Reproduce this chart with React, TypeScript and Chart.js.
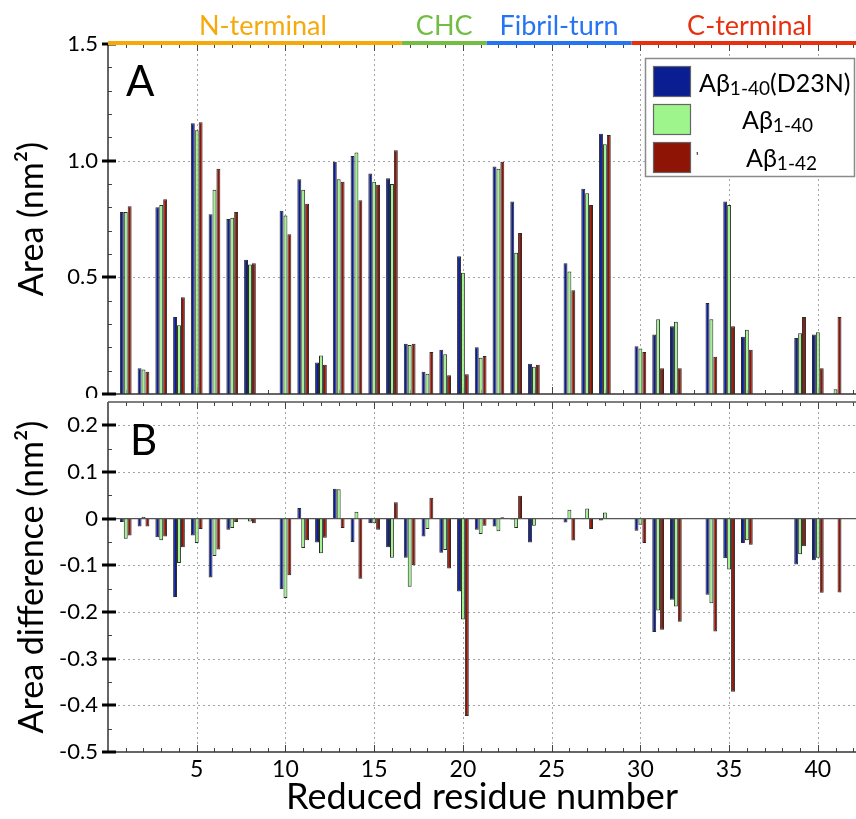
import React, { useEffect, useRef } from 'react';
import { Chart, registerables } from 'chart.js';

Chart.register(...registerables);

const FONT = "Lato, 'Open Sans', 'DejaVu Sans', sans-serif";

// ---------- data ----------
const residues = [
  1, 2, 3, 4, 5, 6, 7, 8, 9, 10, 11, 12, 13, 14, 15, 16, 17, 18, 19, 20, 21,
  22, 23, 24, 25, 26, 27, 28, 29, 30, 31, 32, 33, 34, 35, 36, 37, 38, 39, 40, 41,
];

// Panel A: area (nm^2)
const areaD23N = [
  0.78, 0.11, 0.8, 0.33, 1.16, 0.77, 0.75, 0.575, null, 0.785, 0.92, 0.135, 0.995, 1.02, 0.945, 0.925, 0.215, 0.095, 0.19, 0.59, 0.2,
  0.975, 0.825, 0.13, null, 0.56, 0.88, 1.115, null, 0.205, 0.255, 0.29, null, 0.39, 0.825, 0.245, null, null, 0.24, 0.255, null,
];
const areaAb40 = [
  0.78, 0.105, 0.81, 0.295, 1.13, 0.875, 0.755, 0.555, null, 0.765, 0.875, 0.165, 0.92, 1.035, 0.91, 0.9, 0.21, 0.087, 0.17, 0.52, 0.155,
  0.965, 0.605, 0.117, null, 0.525, 0.86, 1.07, null, 0.195, 0.32, 0.31, null, 0.32, 0.81, 0.275, null, null, 0.26, 0.265, 0.02,
];
const areaAb42 = [
  0.805, 0.095, 0.835, 0.415, 1.165, 0.965, 0.78, 0.56, null, 0.685, 0.815, 0.125, 0.91, 0.83, 0.897, 1.045, 0.215, 0.18, 0.08, 0.085, 0.163,
  0.995, 0.69, 0.125, null, 0.445, 0.81, 1.11, null, 0.18, 0.11, 0.11, null, 0.16, 0.29, 0.19, null, null, 0.33, 0.11, 0.33,
];

// Panel B: area difference (nm^2)
const diffD23N = [
  -0.007, -0.017, -0.04, -0.168, -0.036, -0.126, -0.024, 0, null, -0.151, 0.023, -0.051, 0.064, -0.05, -0.01, -0.061, -0.084, -0.038, -0.073, -0.156, -0.024,
  -0.017, -0.002, -0.051, null, -0.008, -0.001, -0.004, null, -0.026, -0.243, -0.174, null, -0.163, -0.085, -0.052, null, null, -0.098, -0.089, null,
];
const diffAb40 = [
  -0.043, 0.004, -0.046, -0.095, -0.052, -0.08, -0.02, -0.006, null, -0.17, -0.063, -0.074, 0.063, 0.015, -0.01, -0.084, -0.146, -0.022, -0.067, -0.216, -0.033,
  -0.027, -0.02, -0.015, null, 0.019, 0.022, 0.013, null, -0.013, -0.197, -0.188, null, -0.181, -0.109, -0.046, null, null, -0.076, -0.084, null,
];
const diffAb42 = [
  -0.036, -0.017, -0.038, -0.061, -0.022, -0.066, -0.007, -0.01, null, -0.121, -0.046, -0.041, -0.02, -0.129, -0.024, 0.035, -0.1, 0.045, -0.107, -0.423, -0.015,
  0.003, 0.049, null, null, -0.047, -0.022, 0.001, null, -0.052, -0.238, -0.221, null, -0.242, -0.371, -0.056, null, null, -0.059, -0.159, -0.158,
];

const seriesMain = ['Aβ', 'Aβ', 'Aβ'];
const seriesSub = ['1-40', '1-40', '1-42'];
const seriesSuffix = ['(D23N)', '', ''];

const xTicks = [5, 10, 15, 20, 25, 30, 35, 40];
const topYTicks = [0, 0.5, 1.0, 1.5];
const bottomYTicks = [-0.5, -0.4, -0.3, -0.2, -0.1, 0, 0.1, 0.2];

const regionNames = ['N-terminal', 'CHC', 'Fibril-turn', 'C-terminal'];
const regionStart = [0, 16.55, 21.34, 29.5];
const regionEnd = [16.55, 21.34, 29.5, 42.15];

// ---------- style ----------
const X_MIN = 0;
const X_MAX = 42.15;
const COLORS = ['#0a1e92', '#9df58c', '#8e1405'];
const REGION_COLORS = ['#f6a90b', '#73bd43', '#2574f4', '#e8300f'];
const BAR_BORDER = '#2a2a2a';

function line(ctx: any, x1: number, y1: number, x2: number, y2: number) {
  ctx.beginPath();
  ctx.moveTo(x1, y1);
  ctx.lineTo(x2, y2);
  ctx.stroke();
}

function drawBack(chart: any, gridY: number[], yMin: number, yMax: number, minorStep: number, majorY: number[]) {
  const { ctx, chartArea: a, scales } = chart;
  const x = scales.x;
  const y = scales.y;
  ctx.save();
  ctx.strokeStyle = '#a5a5a5';
  ctx.lineWidth = 1;
  ctx.setLineDash([2, 3]);
  for (const v of xTicks) {
    const px = Math.round(x.getPixelForValue(v)) + 0.5;
    line(ctx, px, a.top, px, a.bottom);
  }
  for (const v of gridY) {
    const py = Math.round(y.getPixelForValue(v)) + 0.5;
    line(ctx, a.left, py, a.right, py);
  }
  ctx.setLineDash([]);
  ctx.strokeStyle = '#444';
  ctx.lineWidth = 1;
  const n = Math.round((yMax - yMin) / minorStep);
  for (let k = 1; k < n; k++) {
    const v = yMin + k * minorStep;
    if (majorY.some((m) => Math.abs(m - v) < 1e-6)) continue;
    const py = Math.round(y.getPixelForValue(v)) + 0.5;
    line(ctx, a.left, py, a.left + 4, py);
  }
  for (let v = 1; v <= Math.floor(X_MAX); v++) {
    const px = Math.round(x.getPixelForValue(v)) + 0.5;
    const len = v % 5 === 0 ? 7 : 4;
    line(ctx, px, a.top, px, a.top + len);
    line(ctx, px, a.bottom, px, a.bottom - len);
  }
  ctx.restore();
}

function drawFront(chart: any, majorY: number[], topBorder: boolean, zeroLine: boolean) {
  const { ctx, chartArea: a, scales } = chart;
  const y = scales.y;
  ctx.save();
  ctx.strokeStyle = '#333';
  ctx.lineWidth = 1.5;
  line(ctx, a.left, a.top, a.left, a.bottom);
  line(ctx, a.left, a.bottom, a.right, a.bottom);
  if (topBorder) {
    ctx.strokeStyle = '#555';
    line(ctx, a.left, a.top, a.right, a.top);
  }
  if (zeroLine) {
    ctx.strokeStyle = '#555';
    ctx.lineWidth = 1.3;
    const py = y.getPixelForValue(0);
    line(ctx, a.left, py, a.right, py);
  }
  ctx.strokeStyle = '#000';
  ctx.lineWidth = 3;
  for (const v of majorY) {
    const py = Math.round(y.getPixelForValue(v));
    line(ctx, a.left - 6, py, a.left + 8, py);
  }
  ctx.restore();
}

function drawSubText(ctx: any, x: number, baseline: number, main: string, sub: string, suffix: string) {
  ctx.textBaseline = 'alphabetic';
  ctx.textAlign = 'left';
  ctx.font = `25px ${FONT}`;
  ctx.fillText(main, x, baseline);
  let w = ctx.measureText(main).width;
  ctx.font = `19px ${FONT}`;
  ctx.fillText(sub, x + w, baseline + 2.5);
  w += ctx.measureText(sub).width;
  if (suffix) {
    ctx.font = `25px ${FONT}`;
    ctx.fillText(suffix, x + w, baseline);
  }
}

const topPlugin = {
  id: 'topDecor',
  beforeDatasetsDraw(chart: any) {
    drawBack(chart, [0.5, 1.0], 0, 1.5, 0.1, topYTicks);
  },
  afterDatasetsDraw(chart: any) {
    drawFront(chart, topYTicks, false, false);
  },
  afterDraw(chart: any) {
    const { ctx, chartArea: a, scales } = chart;
    const x = scales.x;
    ctx.save();
    ctx.lineWidth = 4;
    ctx.font = `27px ${FONT}`;
    ctx.textAlign = 'center';
    ctx.textBaseline = 'alphabetic';
    for (let i = 0; i < regionNames.length; i++) {
      const x1 = x.getPixelForValue(regionStart[i]);
      const x2 = Math.max(x.getPixelForValue(regionEnd[i]), x1);
      ctx.strokeStyle = REGION_COLORS[i];
      line(ctx, x1, a.top - 1, x2, a.top - 1);
      ctx.fillStyle = REGION_COLORS[i];
      ctx.fillText(regionNames[i], (x1 + x2) / 2 + (i === 0 ? 8 : i === 3 ? 6 : 0), 35);
    }
    ctx.fillStyle = '#000';
    ctx.textAlign = 'left';
    ctx.font = `42px ${FONT}`;
    ctx.fillText('A', 126, 96);
    ctx.fillStyle = '#fff';
    ctx.fillRect(645, 58, 211, 119);
    ctx.strokeStyle = '#8a8a8a';
    ctx.lineWidth = 1.5;
    ctx.strokeRect(645.5, 58.5, 209, 118);
    const rows = [
      { sy: 66, tx: 699, base: 92 },
      { sy: 104, tx: 742, base: 129 },
      { sy: 142, tx: 746, base: 167 },
    ];
    for (let i = 0; i < 3; i++) {
      ctx.fillStyle = COLORS[i];
      ctx.fillRect(653, rows[i].sy, 37, 30);
      ctx.strokeStyle = '#666';
      ctx.lineWidth = 1.2;
      ctx.strokeRect(653.5, rows[i].sy + 0.5, 37, 30);
      ctx.fillStyle = '#000';
      drawSubText(ctx, rows[i].tx, rows[i].base, seriesMain[i], seriesSub[i], seriesSuffix[i]);
    }
    ctx.font = `12px ${FONT}`;
    ctx.fillText("'", 696, 160);
    ctx.restore();
  },
};

const bottomPlugin = {
  id: 'bottomDecor',
  beforeDatasetsDraw(chart: any) {
    drawBack(chart, [0.2, 0.1, -0.1, -0.2, -0.3, -0.4], -0.5, 0.25, 0.05, bottomYTicks);
  },
  afterDatasetsDraw(chart: any) {
    drawFront(chart, bottomYTicks, true, true);
  },
  afterDraw(chart: any) {
    const { ctx } = chart;
    ctx.save();
    ctx.fillStyle = '#000';
    ctx.textAlign = 'left';
    ctx.textBaseline = 'alphabetic';
    ctx.font = `42px ${FONT}`;
    ctx.fillText('B', 130, 57);
    ctx.restore();
  },
};

function toPoints(vals: (number | null)[]) {
  return residues
    .map((r, i) => ({ x: r, y: vals[i] }))
    .filter((p) => p.y !== null && p.y !== undefined);
}

function makeDatasets(series: (number | null)[][]) {
  return series.map((vals, i) => ({
    label: seriesMain[i] + seriesSub[i] + seriesSuffix[i],
    data: toPoints(vals),
    backgroundColor: COLORS[i],
    borderColor: BAR_BORDER,
    borderWidth: 1,
    categoryPercentage: 0.66,
    barPercentage: 1,
  }));
}

function fmtY(v: number) {
  if (Math.abs(v) < 1e-9) return '0';
  return v.toFixed(1);
}

function makeConfig(opts: {
  datasets: any[];
  yMin: number;
  yMax: number;
  yTicks: number[];
  yTitle: string;
  showX: boolean;
  padding: any;
  plugin: any;
}) {
  return {
    type: 'bar',
    data: { datasets: opts.datasets },
    options: {
      responsive: false,
      animation: false,
      devicePixelRatio: 1,
      layout: { padding: opts.padding },
      plugins: { legend: { display: false }, tooltip: { enabled: false }, title: { display: false } },
      scales: {
        x: {
          type: 'linear',
          min: X_MIN,
          max: X_MAX,
          offset: false,
          display: opts.showX,
          grid: { display: false, drawTicks: false, offset: false },
          border: { display: false },
          afterBuildTicks: (s: any) => {
            s.ticks = xTicks.map((v) => ({ value: v }));
          },
          afterFit: (s: any) => {
            if (opts.showX) s.height = 67;
            s.paddingLeft = 0;
            s.paddingRight = 0;
          },
          ticks: {
            font: { family: FONT, size: 23 },
            color: '#000',
            padding: 4,
            maxRotation: 0,
            autoSkip: false,
            callback: (v: any) => String(v),
          },
          title: {
            display: opts.showX,
            text: 'Reduced residue number',
            font: { family: FONT, size: 36 },
            color: '#000',
            padding: { top: 0, bottom: 0 },
          },
        },
        y: {
          type: 'linear',
          min: opts.yMin,
          max: opts.yMax,
          grid: { display: false, drawTicks: false },
          border: { display: false },
          afterBuildTicks: (s: any) => {
            s.ticks = opts.yTicks.map((v) => ({ value: v }));
          },
          afterFit: (s: any) => {
            s.width = 108;
            s.paddingTop = 0;
            s.paddingBottom = 0;
          },
          ticks: {
            font: { family: FONT, size: 22 },
            color: '#000',
            padding: 10,
            autoSkip: false,
            callback: (v: any) => fmtY(Number(v)),
          },
          title: {
            display: true,
            text: opts.yTitle,
            font: { family: FONT, size: 34 },
            color: '#000',
            padding: { top: 12, bottom: 0 },
          },
        },
      },
    },
    plugins: [opts.plugin],
  };
}

export default function App() {
  const topRef = useRef<HTMLCanvasElement>(null);
  const botRef = useRef<HTMLCanvasElement>(null);

  useEffect(() => {
    const c1 = new Chart(
      topRef.current as any,
      makeConfig({
        datasets: makeDatasets([areaD23N, areaAb40, areaAb42]),
        yMin: 0,
        yMax: 1.5,
        yTicks: topYTicks,
        yTitle: 'Area (nm²)',
        showX: false,
        padding: { top: 44, bottom: 4, left: 0, right: 0 },
        plugin: topPlugin,
      }) as any
    );
    const c2 = new Chart(
      botRef.current as any,
      makeConfig({
        datasets: makeDatasets([diffD23N, diffAb40, diffAb42]),
        yMin: -0.5,
        yMax: 0.25,
        yTicks: bottomYTicks,
        yTitle: 'Area difference (nm²)',
        showX: true,
        padding: { top: 4, bottom: 0, left: 0, right: 0 },
        plugin: bottomPlugin,
      }) as any
    );
    return () => {
      c1.destroy();
      c2.destroy();
    };
  }, []);

  return (
    <div style={{ position: 'absolute', left: 0, top: 0, width: 856, height: 819, background: '#fff', overflow: 'hidden' }}>
      <canvas ref={topRef} width={856} height={398} style={{ position: 'absolute', left: 0, top: 0, display: 'block' }} />
      <canvas ref={botRef} width={856} height={421} style={{ position: 'absolute', left: 0, top: 398, display: 'block' }} />
    </div>
  );
}
